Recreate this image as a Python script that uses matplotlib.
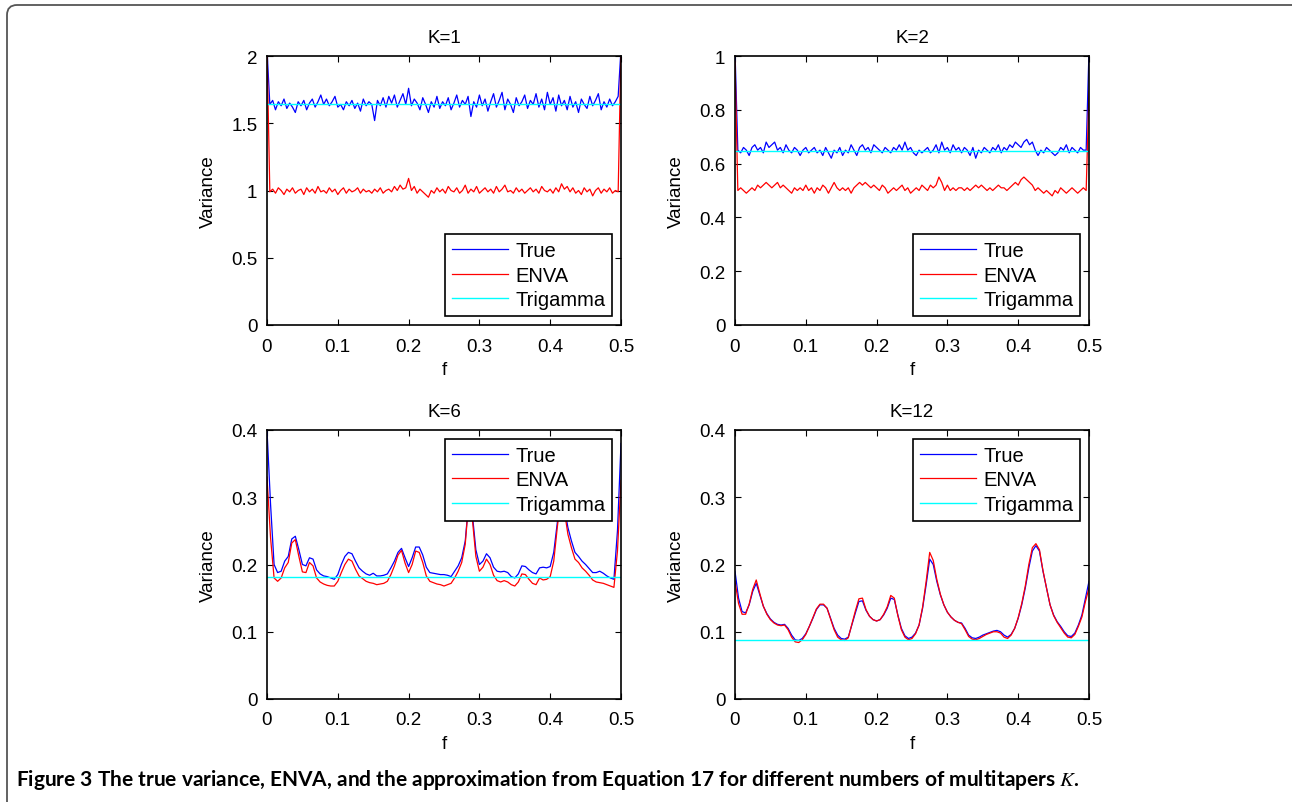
import numpy as np
import matplotlib
matplotlib.use("Agg")
import matplotlib.pyplot as plt
from matplotlib.patches import FancyBboxPatch
from matplotlib.ticker import FuncFormatter

plt.rcParams['font.family'] = ['Liberation Sans', 'DejaVu Sans']
plt.rcParams['mathtext.fontset'] = 'stix'

# ---- data ----
titles = ['K=1', 'K=2', 'K=6', 'K=12']
labels = ['True', 'ENVA', 'Trigamma']
trigamma = [1.645, 0.645, 0.181, 0.087]
ylims = [2, 1, 0.4, 0.4]
yticks = [[0, 0.5, 1, 1.5, 2], [0, 0.2, 0.4, 0.6, 0.8, 1],
          [0, 0.1, 0.2, 0.3, 0.4], [0, 0.1, 0.2, 0.3, 0.4]]
xticks = [0, 0.1, 0.2, 0.3, 0.4, 0.5]

# K=1, sampled every 0.004 in f
true_k1 = [2.05, 1.64, 1.67, 1.60, 1.66, 1.63, 1.68, 1.61, 1.65, 1.62,
           1.58, 1.66, 1.63, 1.67, 1.60, 1.65, 1.68, 1.62, 1.66, 1.71,
           1.64, 1.68, 1.63, 1.66, 1.70, 1.62, 1.64, 1.60, 1.66, 1.63,
           1.67, 1.61, 1.65, 1.59, 1.68, 1.63, 1.66, 1.64, 1.52, 1.67,
           1.63, 1.69, 1.62, 1.70, 1.65, 1.71, 1.62, 1.67, 1.72, 1.64,
           1.76, 1.63, 1.68, 1.65, 1.60, 1.69, 1.64, 1.58, 1.66, 1.62,
           1.70, 1.61, 1.66, 1.63, 1.69, 1.60, 1.65, 1.71, 1.62, 1.67,
           1.64, 1.70, 1.55, 1.66, 1.62, 1.71, 1.63, 1.68, 1.59, 1.66,
           1.72, 1.62, 1.67, 1.73, 1.60, 1.68, 1.64, 1.58, 1.69, 1.63,
           1.66, 1.71, 1.61, 1.67, 1.64, 1.72, 1.62, 1.68, 1.60, 1.73,
           1.64, 1.69, 1.59, 1.71, 1.63, 1.67, 1.60, 1.70, 1.62, 1.66,
           1.58, 1.68, 1.64, 1.61, 1.70, 1.63, 1.67, 1.72, 1.60, 1.66,
           1.62, 1.68, 1.63, 1.66, 1.70, 2.05]
enva_k1 = [2.05, 0.99, 1.01, 0.98, 1.02, 1.00, 0.97, 1.01, 0.99, 1.02,
           0.98, 1.00, 1.01, 0.97, 1.02, 0.99, 1.01, 0.98, 1.03, 0.99,
           1.00, 0.98, 1.02, 0.99, 1.01, 0.97, 1.00, 1.02, 0.98, 1.01,
           0.99, 1.00, 1.02, 0.98, 1.01, 0.99, 1.00, 0.98, 1.01, 0.99,
           1.02, 0.98, 1.00, 1.01, 0.99, 1.03, 1.00, 1.04, 1.01, 1.02,
           1.09, 1.00, 1.03, 0.98, 1.01, 0.99, 0.97, 0.95, 1.00, 0.98,
           1.02, 0.99, 1.01, 0.98, 1.03, 1.00, 0.99, 1.02, 0.98, 1.00,
           1.04, 0.98, 1.01, 0.99, 1.03, 0.98, 1.00, 1.02, 0.99, 1.01,
           0.98, 1.03, 0.99, 1.01, 1.04, 0.99, 1.00, 0.98, 1.02, 0.99,
           1.01, 0.98, 1.00, 1.02, 0.99, 1.01, 0.98, 1.03, 1.00, 0.99,
           1.01, 0.98, 1.02, 0.99, 1.05, 1.01, 1.03, 0.99, 1.02, 0.98,
           1.00, 0.97, 1.02, 0.99, 1.01, 0.96, 1.00, 1.02, 0.98, 1.01,
           0.99, 1.02, 0.98, 1.00, 0.99, 2.05]

# K=2, sampled every 0.004 in f
true_k2 = [1.02, 0.65, 0.64, 0.66, 0.65, 0.63, 0.66, 0.67, 0.65, 0.66,
           0.64, 0.68, 0.66, 0.67, 0.68, 0.65, 0.66, 0.64, 0.67, 0.65,
           0.64, 0.66, 0.65, 0.63, 0.65, 0.66, 0.64, 0.65, 0.66, 0.64,
           0.65, 0.63, 0.66, 0.64, 0.62, 0.65, 0.64, 0.66, 0.63, 0.65,
           0.64, 0.67, 0.65, 0.63, 0.66, 0.67, 0.65, 0.66, 0.64, 0.67,
           0.66, 0.65, 0.64, 0.66, 0.65, 0.64, 0.66, 0.65, 0.67, 0.65,
           0.68, 0.65, 0.66, 0.64, 0.63, 0.65, 0.64, 0.65, 0.66, 0.64,
           0.65, 0.67, 0.64, 0.68, 0.65, 0.66, 0.64, 0.67, 0.65, 0.66,
           0.64, 0.66, 0.65, 0.63, 0.66, 0.62, 0.65, 0.64, 0.66, 0.65,
           0.64, 0.66, 0.65, 0.67, 0.64, 0.66, 0.65, 0.67, 0.66, 0.68,
           0.67, 0.66, 0.68, 0.69, 0.67, 0.68, 0.65, 0.63, 0.65, 0.64,
           0.66, 0.65, 0.64, 0.63, 0.64, 0.66, 0.65, 0.67, 0.64, 0.66,
           0.65, 0.64, 0.66, 0.65, 0.65, 1.02]
enva_k2 = [0.98, 0.50, 0.51, 0.50, 0.49, 0.50, 0.51, 0.50, 0.52, 0.51,
           0.52, 0.53, 0.52, 0.51, 0.52, 0.53, 0.51, 0.52, 0.51, 0.50,
           0.49, 0.51, 0.50, 0.51, 0.50, 0.52, 0.50, 0.51, 0.49, 0.51,
           0.50, 0.52, 0.51, 0.49, 0.51, 0.53, 0.51, 0.50, 0.51, 0.50,
           0.51, 0.49, 0.51, 0.52, 0.53, 0.52, 0.53, 0.52, 0.51, 0.52,
           0.51, 0.50, 0.52, 0.51, 0.49, 0.50, 0.51, 0.50, 0.51, 0.52,
           0.50, 0.51, 0.49, 0.50, 0.51, 0.50, 0.52, 0.51, 0.50, 0.52,
           0.51, 0.52, 0.55, 0.53, 0.50, 0.52, 0.50, 0.51, 0.50, 0.51,
           0.51, 0.50, 0.51, 0.50, 0.51, 0.52, 0.51, 0.52, 0.51, 0.50,
           0.51, 0.50, 0.51, 0.52, 0.51, 0.51, 0.50, 0.51, 0.52, 0.53,
           0.52, 0.54, 0.55, 0.54, 0.53, 0.52, 0.50, 0.51, 0.50, 0.49,
           0.50, 0.49, 0.48, 0.50, 0.49, 0.51, 0.50, 0.49, 0.50, 0.51,
           0.50, 0.49, 0.50, 0.51, 0.50, 0.87]

# K=6, sampled every 0.005 in f
true_k6 = [0.400, 0.290, 0.200, 0.188, 0.190, 0.205, 0.212, 0.238, 0.242, 0.222,
           0.200, 0.198, 0.210, 0.208, 0.192, 0.186, 0.183, 0.182, 0.180, 0.178,
           0.185, 0.200, 0.212, 0.218, 0.216, 0.205, 0.195, 0.190, 0.186, 0.184,
           0.187, 0.183, 0.183, 0.184, 0.186, 0.195, 0.205, 0.218, 0.224, 0.210,
           0.197, 0.210, 0.226, 0.226, 0.214, 0.196, 0.188, 0.187, 0.186, 0.185,
           0.185, 0.184, 0.182, 0.190, 0.198, 0.210, 0.235, 0.295, 0.275, 0.222,
           0.200, 0.205, 0.216, 0.210, 0.196, 0.190, 0.189, 0.190, 0.188, 0.182,
           0.180, 0.186, 0.198, 0.197, 0.192, 0.188, 0.186, 0.195, 0.196, 0.195,
           0.197, 0.218, 0.262, 0.300, 0.285, 0.255, 0.235, 0.218, 0.212, 0.205,
           0.200, 0.194, 0.188, 0.188, 0.190, 0.187, 0.183, 0.180, 0.178, 0.250,
           0.380]
enva_k6 = [0.330, 0.240, 0.180, 0.175, 0.180, 0.195, 0.203, 0.232, 0.237, 0.212,
           0.189, 0.188, 0.203, 0.198, 0.180, 0.174, 0.171, 0.169, 0.168, 0.168,
           0.175, 0.188, 0.200, 0.208, 0.205, 0.193, 0.183, 0.179, 0.175, 0.173,
           0.172, 0.170, 0.171, 0.172, 0.175, 0.185, 0.198, 0.214, 0.221, 0.202,
           0.188, 0.200, 0.220, 0.218, 0.203, 0.183, 0.175, 0.173, 0.171, 0.170,
           0.168, 0.170, 0.172, 0.180, 0.190, 0.203, 0.230, 0.295, 0.268, 0.212,
           0.190, 0.196, 0.208, 0.200, 0.184, 0.176, 0.174, 0.176, 0.174, 0.170,
           0.168, 0.174, 0.186, 0.185, 0.178, 0.172, 0.170, 0.180, 0.177, 0.178,
           0.182, 0.205, 0.255, 0.300, 0.280, 0.245, 0.225, 0.208, 0.203, 0.195,
           0.190, 0.184, 0.177, 0.174, 0.173, 0.172, 0.170, 0.168, 0.166, 0.220,
           0.325]

# K=12, sampled every 0.005 in f
true_k12 = [0.190, 0.150, 0.130, 0.128, 0.140, 0.160, 0.172, 0.155, 0.138, 0.127,
            0.119, 0.114, 0.111, 0.110, 0.111, 0.105, 0.095, 0.088, 0.087, 0.090,
            0.097, 0.108, 0.120, 0.133, 0.140, 0.140, 0.135, 0.120, 0.105, 0.095,
            0.090, 0.089, 0.092, 0.110, 0.128, 0.145, 0.146, 0.132, 0.123, 0.118,
            0.116, 0.118, 0.125, 0.135, 0.150, 0.148, 0.125, 0.105, 0.094, 0.090,
            0.092, 0.098, 0.110, 0.135, 0.170, 0.208, 0.200, 0.175, 0.155, 0.140,
            0.129, 0.122, 0.117, 0.114, 0.113, 0.105, 0.095, 0.091, 0.090, 0.092,
            0.095, 0.097, 0.099, 0.101, 0.102, 0.100, 0.095, 0.092, 0.096, 0.105,
            0.120, 0.140, 0.165, 0.195, 0.220, 0.228, 0.220, 0.190, 0.165, 0.140,
            0.125, 0.115, 0.108, 0.100, 0.094, 0.093, 0.098, 0.110, 0.125, 0.150,
            0.175]
enva_k12 = [0.175, 0.142, 0.126, 0.126, 0.141, 0.163, 0.177, 0.157, 0.138, 0.126,
            0.118, 0.113, 0.110, 0.109, 0.110, 0.103, 0.092, 0.085, 0.084, 0.088,
            0.096, 0.108, 0.121, 0.134, 0.141, 0.141, 0.135, 0.119, 0.103, 0.092,
            0.088, 0.087, 0.091, 0.111, 0.131, 0.149, 0.150, 0.133, 0.123, 0.118,
            0.116, 0.118, 0.126, 0.137, 0.154, 0.150, 0.124, 0.103, 0.092, 0.088,
            0.090, 0.097, 0.110, 0.137, 0.175, 0.218, 0.206, 0.178, 0.156, 0.140,
            0.129, 0.122, 0.117, 0.114, 0.112, 0.103, 0.093, 0.089, 0.088, 0.090,
            0.093, 0.096, 0.098, 0.100, 0.100, 0.098, 0.092, 0.090, 0.095, 0.105,
            0.121, 0.142, 0.168, 0.200, 0.225, 0.231, 0.222, 0.191, 0.165, 0.140,
            0.124, 0.114, 0.106, 0.098, 0.092, 0.091, 0.096, 0.108, 0.122, 0.145,
            0.165]

true_all = [true_k1, true_k2, true_k6, true_k12]
enva_all = [enva_k1, enva_k2, enva_k6, enva_k12]
legend_loc = ['lower right', 'lower right', 'upper right', 'upper right']

# ---- figure ----
W, H = 1292, 803
fig = plt.figure(figsize=(W / 100, H / 100), dpi=100)

# page frame, rounded top-left corner, running off the right and bottom edges
frame = FancyBboxPatch((0.07, -1.0), 14.0, 8.97, boxstyle='round,pad=0,rounding_size=0.1',
                       transform=fig.dpi_scale_trans, facecolor='none',
                       edgecolor='#555555', lw=1.3, clip_on=False)
fig.patches.append(frame)

positions = [(267, 57), (735, 57), (267, 431), (735, 431)]
aw, ah = 354, 269

fmt = FuncFormatter(lambda v, p: '%g' % round(v, 3))

for i in range(4):
    x0, y0 = positions[i]
    ax = fig.add_axes([x0 / W, 1 - (y0 + ah) / H, aw / W, ah / H])
    f = np.linspace(0, 0.5, len(true_all[i]))
    ax.plot(f, true_all[i], color='#0000ff', lw=0.9, label=labels[0])
    ax.plot(f, enva_all[i], color='#ff0000', lw=0.9, label=labels[1])
    ax.plot([0, 0.5], [trigamma[i], trigamma[i]], color='#00ffff', lw=1.0, label=labels[2])
    ax.set_xlim(0, 0.5)
    ax.set_ylim(0, ylims[i])
    ax.set_xticks(xticks)
    ax.set_yticks(yticks[i])
    ax.xaxis.set_major_formatter(fmt)
    ax.yaxis.set_major_formatter(fmt)
    ax.tick_params(direction='in', top=True, right=True, length=4, width=0.8,
                   labelsize=13.5)
    ax.tick_params(axis='x', pad=9)
    ax.tick_params(axis='y', pad=7)
    for s in ax.spines.values():
        s.set_linewidth(1.2)
    ax.set_title(titles[i], fontsize=13.5, pad=10)
    ax.set_xlabel('f', fontsize=13.5, labelpad=5)
    ax.set_ylabel('Variance', fontsize=13.5, labelpad=10)
    leg = ax.legend(loc=legend_loc[i], fancybox=False, edgecolor='black', framealpha=1,
                    fontsize=14.5, handlelength=2.8, handletextpad=0.35,
                    labelspacing=0.28, borderpad=0.33, borderaxespad=0.45)
    leg.get_frame().set_linewidth(1.2)

cap = fig.text(16 / W, 1 - 780 / H,
               'Figure 3 The true variance, ENVA, and the approximation from Equation 17 '
               'for different numbers of multitapers $K$.',
               fontsize=12, fontweight='bold', va='center', ha='left',
               family=['Lato', 'DejaVu Sans'])
# fit caption to the width it takes in the reference
fig.canvas.draw()
bb = cap.get_window_extent()
cap.set_fontsize(12 * 1061 / bb.width)

fig.savefig('out.png', dpi=100)
